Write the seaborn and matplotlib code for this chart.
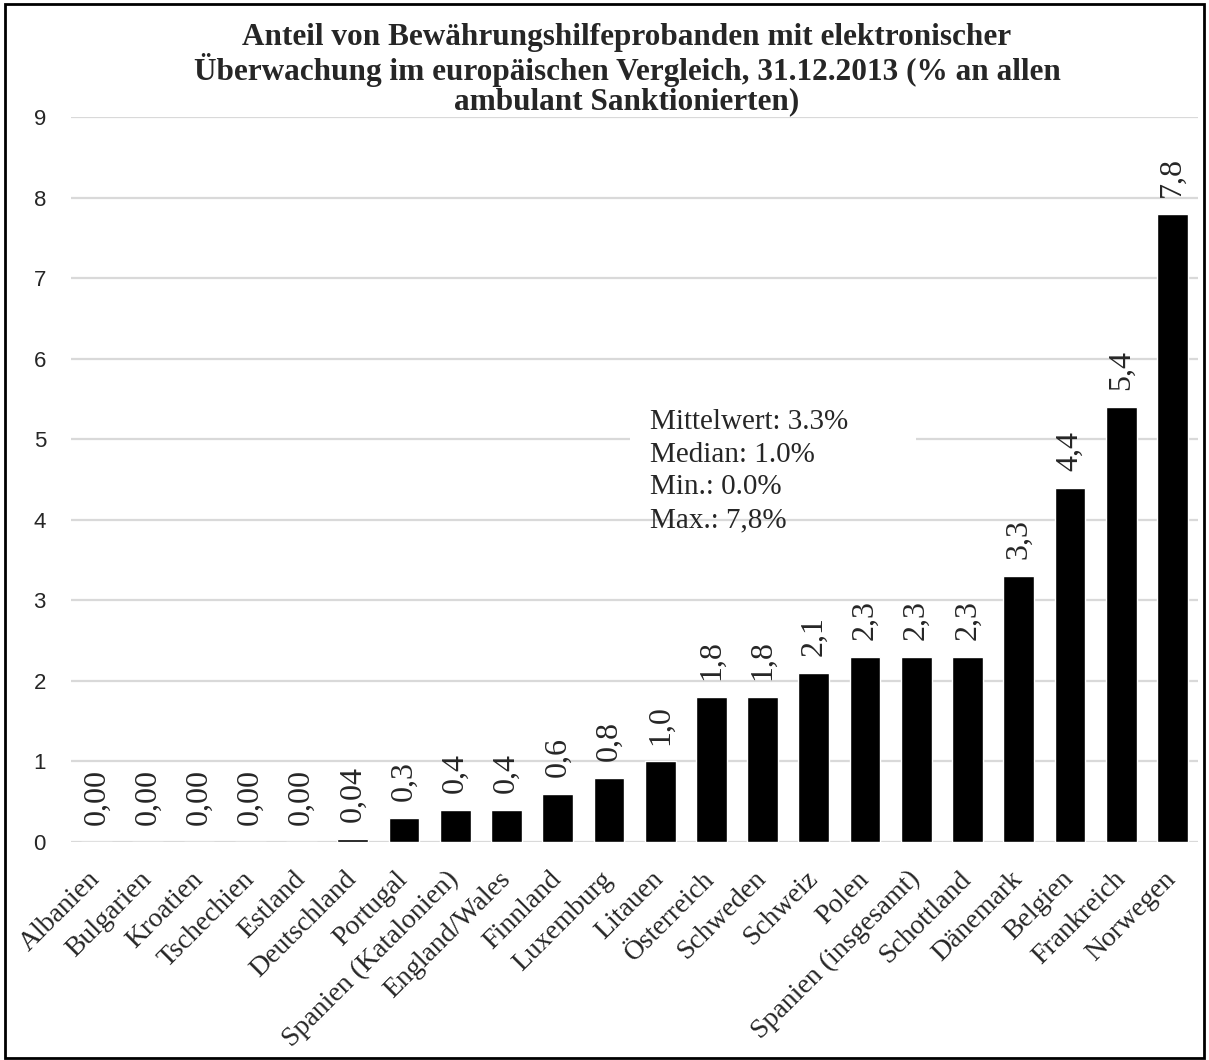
import matplotlib
matplotlib.use("Agg")
import matplotlib.pyplot as plt
import seaborn as sns
import pandas as pd
from matplotlib.patches import Rectangle

countries = ["Albanien", "Bulgarien", "Kroatien", "Tschechien", "Estland", "Deutschland",
             "Portugal", "Spanien (Katalonien)", "England/Wales", "Finnland", "Luxemburg",
             "Litauen", "Österreich", "Schweden", "Schweiz", "Polen", "Spanien (insgesamt)",
             "Schottland", "Dänemark", "Belgien", "Frankreich", "Norwegen"]
values = [0.0, 0.0, 0.0, 0.0, 0.0, 0.04, 0.3, 0.4, 0.4, 0.6, 0.8, 1.0, 1.8, 1.8, 2.1,
          2.3, 2.3, 2.3, 3.3, 4.4, 5.4, 7.8]
value_labels = ["0,00", "0,00", "0,00", "0,00", "0,00", "0,04", "0,3", "0,4", "0,4", "0,6",
                "0,8", "1,0", "1,8", "1,8", "2,1", "2,3", "2,3", "2,3", "3,3", "4,4", "5,4", "7,8"]
y_ticks = [0, 1, 2, 3, 4, 5, 6, 7, 8, 9]
title = ("Anteil von Bewährungshilfeprobanden mit elektronischer\n"
         "Überwachung im europäischen Vergleich, 31.12.2013 (% an allen\n"
         "ambulant Sanktionierten)")
stats_text = "Mittelwert: 3.3%\nMedian: 1.0%\nMin.: 0.0%\nMax.: 7,8%"

sns.set_theme(style="white")
serif = ["Liberation Serif", "DejaVu Serif"]
sans = ["Liberation Sans", "DejaVu Sans"]
plt.rcParams["font.family"] = serif

df = pd.DataFrame({"Land": countries, "Wert": values})

fig = plt.figure(figsize=(12.09, 10.60), dpi=100)
ax = fig.add_axes([0.0587, 0.2057, 0.9323, 0.6839])

sns.barplot(data=df, x="Land", y="Wert", color="black", saturation=1, width=0.6, ax=ax, zorder=3)

ax.set_ylim(0, 9)
ax.set_xlim(-0.5, len(countries) - 0.5)
ax.set_yticks(y_ticks)
ax.set_yticklabels([str(t) for t in y_ticks], family=sans, fontsize=16)
ax.yaxis.grid(True, color="#d9d9d9", linewidth=1.6, zorder=0)
ax.xaxis.grid(False)
ax.set_axisbelow(True)
for s in ax.spines.values():
    s.set_visible(False)
ax.tick_params(axis="both", length=0)
ax.tick_params(axis="y", pad=18)
ax.tick_params(axis="x", pad=24)
ax.set_xlabel("")
ax.set_ylabel("")
ax.set_xticks(range(len(countries)))
ax.set_xticklabels(countries, rotation=45, ha="right", va="center", rotation_mode="anchor",
                   fontsize=20, family=serif)

ax.bar_label(ax.containers[0], labels=value_labels, rotation=90, padding=12,
             fontsize=23, family=serif)

# white background box behind the stats text
ax.add_patch(Rectangle((0.496, 0.465), 0.254, 0.15, transform=ax.transAxes,
                       facecolor="white", edgecolor="none", zorder=2))
ax.text(0.514, 0.597, stats_text, transform=ax.transAxes, ha="left", va="top",
        fontsize=21, family=serif, linespacing=1.33, zorder=4)

fig.text(0.5186, 0.978, title, ha="center", va="top", fontsize=22.5, fontweight="bold",
         family=serif, linespacing=1.02)

fig.patches.append(Rectangle((0.004, 0.002), 0.992, 0.994, transform=fig.transFigure,
                             facecolor="none", edgecolor="black", linewidth=2))

fig.savefig("out.png", dpi=100)
